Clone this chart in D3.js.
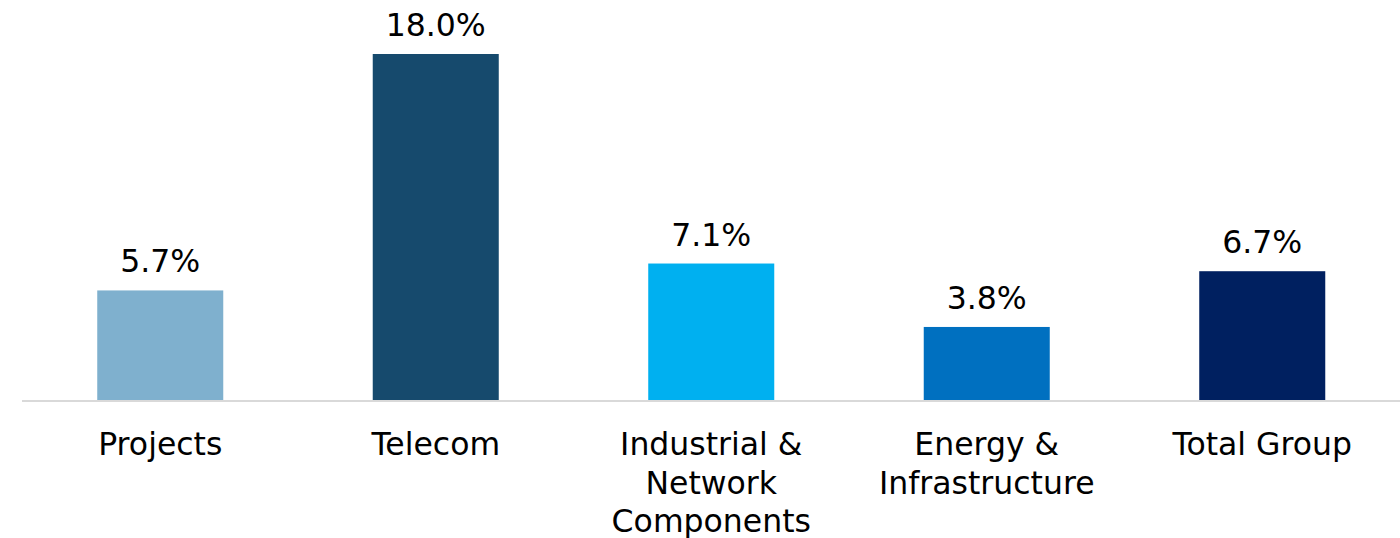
<!DOCTYPE html>
<html>
<head>
<meta charset="utf-8">
<script src="https://cdn.jsdelivr.net/npm/d3@7"></script>
<style>
  html, body { margin: 0; padding: 0; background: #ffffff; }
  svg { display: block; }
  text { font-family: "DejaVu Sans", Verdana, sans-serif; fill: #000000; }
</style>
</head>
<body>
<svg id="chart" width="1400" height="538"></svg>
<script>
// Segment figures (%)
const categories = ["Projects", "Telecom", "Industrial & Network Components", "Energy & Infrastructure", "Total Group"];
const values = [5.7, 18.0, 7.1, 3.8, 6.7];
const colors = ["#7FB0CE", "#164A6D", "#00B0F0", "#0070C0", "#002060"];

const W = 1400, H = 538;
const baseY = 400, topY = 54;
const fontSize = 31.5;

const svg = d3.select("#chart");

const x = d3.scaleBand()
  .domain(categories)
  .range([22.5, 1400])
  .paddingInner(0.5426)
  .paddingOuter(0.2713);

const y = d3.scaleLinear()
  .domain([0, d3.max(values)])
  .range([baseY, topY]);

const data = categories.map((c, i) => ({ cat: c, value: values[i], color: colors[i] }));

// Bars
svg.append("g").selectAll("rect")
  .data(data)
  .join("rect")
  .attr("x", d => x(d.cat))
  .attr("y", d => y(d.value))
  .attr("width", x.bandwidth())
  .attr("height", d => y(0) - y(d.value))
  .attr("fill", d => d.color);

// Baseline
svg.append("line")
  .attr("x1", 22).attr("x2", W)
  .attr("y1", y(0) + 1).attr("y2", y(0) + 1)
  .attr("stroke", "#D9D9D9")
  .attr("stroke-width", 2);

// Value labels
svg.append("g").selectAll("text")
  .data(data)
  .join("text")
  .attr("x", d => x(d.cat) + x.bandwidth() / 2)
  .attr("y", d => y(d.value) - 18)
  .attr("text-anchor", "middle")
  .style("font-size", fontSize + "px")
  .text(d => d.value.toFixed(1) + "%");

// Category labels, wrapped to fit under each bar
const maxLabelWidth = 250;
const lineHeight = 38.5;
const labels = svg.append("g").selectAll("text")
  .data(data)
  .join("text")
  .attr("text-anchor", "middle")
  .style("font-size", fontSize + "px")
  .attr("transform", d => `translate(${x(d.cat) + x.bandwidth() / 2},455)`);

labels.each(function(d) {
  const t = d3.select(this);
  const words = d.cat.split(" ");
  const lines = [];
  let cur = [];
  const probe = t.append("tspan");
  words.forEach(w => {
    const trial = cur.concat(w).join(" ");
    probe.text(trial);
    if (cur.length && probe.node().getComputedTextLength() > maxLabelWidth) {
      lines.push(cur.join(" "));
      cur = [w];
    } else {
      cur.push(w);
    }
  });
  lines.push(cur.join(" "));
  probe.remove();
  lines.forEach((ln, i) => {
    t.append("tspan").attr("x", 0).attr("y", i * lineHeight).text(ln);
  });
});
</script>
</body>
</html>
